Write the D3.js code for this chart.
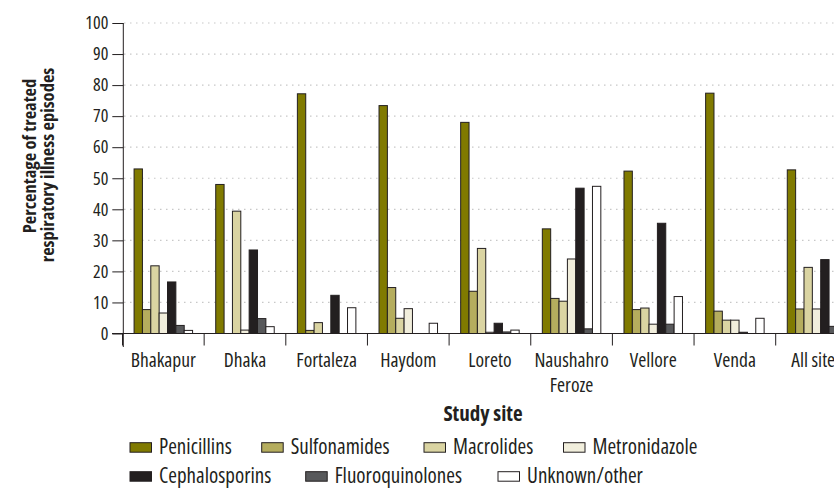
<!DOCTYPE html>
<html><head><meta charset="utf-8">
<script src="https://cdn.jsdelivr.net/npm/d3@7"></script>
<style>
html,body{margin:0;padding:0;background:#fff;overflow:hidden;}
text{font-family:"Open Sans",sans-serif;font-stretch:85%;fill:#231f20;}
text.bold{font-stretch:75%;font-weight:bold;}
</style></head>
<body><svg id="c" width="834" height="488"></svg>
<script>
const sites = ["Bhakapur","Dhaka","Fortaleza","Haydom","Loreto","Naushahro|Feroze","Vellore","Venda","All sites"];
const seriesNames = ["Penicillins","Sulfonamides","Macrolides","Metronidazole","Cephalosporins","Fluoroquinolones","Unknown/other"];
const penicillins      = [53.0, 48.0, 77.2, 73.4, 68.0, 33.7, 52.3, 77.4, 52.7];
const sulfonamides     = [7.7, 0, 1.0, 14.8, 13.6, 11.3, 7.7, 7.2, 7.9];
const macrolides       = [21.8, 39.4, 3.5, 4.9, 27.4, 10.4, 8.2, 4.3, 21.3];
const metronidazole    = [6.6, 1.1, 0, 8.0, 0.4, 24.0, 3.0, 4.3, 7.9];
const cephalosporins   = [16.6, 26.9, 12.3, 0, 3.3, 46.8, 35.5, 0.4, 23.8];
const fluoroquinolones = [2.6, 4.8, 0, 0, 0.5, 1.5, 3.0, 0, 2.3];
const unknownOther     = [1.0, 2.2, 8.3, 3.3, 1.1, 47.4, 11.9, 4.9, 5.0];
const yTicks = [0,10,20,30,40,50,60,70,80,90,100];
const colors = ["#807a00","#b5ad5e","#dad4a2","#f1eedc","#231f20","#58595b","#ffffff"];

const seriesVals = [penicillins,sulfonamides,macrolides,metronidazole,cephalosporins,fluoroquinolones,unknownOther];
const svg = d3.select("#c");
const x0 = d3.scaleBand().domain(sites).range([122.5, 122.5 + 81.65*9]).padding(0);
const groupW = 58.5;
const x1 = d3.scaleBand().domain(seriesNames).range([0, groupW]).padding(0);
const y = d3.scaleLinear().domain([0,100]).range([333.5, 23]);

// grid
svg.append("g").selectAll("line").data(yTicks.filter(d=>d>0)).join("line")
  .attr("x1",124).attr("x2",834).attr("y1",d=>y(d)).attr("y2",d=>y(d))
  .attr("stroke","#c8c8c8").attr("stroke-width",1.2).attr("stroke-dasharray","1.5,4.5");

// bars
const gOff = (x0.bandwidth()-groupW)/2;
const g = svg.append("g");
sites.forEach((s,i)=>{
  seriesNames.forEach((n,j)=>{
    const v = seriesVals[j][i];
    if(v<=0) return;
    g.append("rect")
      .attr("x", x0(s)+gOff+x1(n))
      .attr("y", y(v))
      .attr("width", x1.bandwidth())
      .attr("height", y(0)-y(v))
      .attr("fill", colors[j])
      .attr("stroke","#231f20").attr("stroke-width",1);
  });
});

// y axis
const ya = svg.append("g").attr("transform","translate(123.3,0)")
  .call(d3.axisLeft(y).tickValues(yTicks).tickSize(11).tickPadding(4));
ya.select(".domain").attr("stroke","#231f20").attr("d","M0,"+y(100)+"V347");
ya.selectAll(".tick line").attr("stroke","#231f20");
ya.selectAll("text").style("font-size","18px").style("font-family","Open Sans").attr("fill","#231f20");

// x axis
const xa = svg.append("g").attr("transform","translate(0,"+y(0)+")");
xa.append("line").attr("x1",112).attr("x2",834).attr("y1",0).attr("y2",0).attr("stroke","#231f20");
xa.selectAll(".tk").data(sites).join("line").attr("class","tk")
  .attr("x1",d=>x0(d)).attr("x2",d=>x0(d)).attr("y1",0).attr("y2",12).attr("stroke","#231f20");
xa.selectAll(".lab").data(sites).join("text").attr("class","lab")
  .attr("text-anchor","middle").style("font-size","19.5px")
  .attr("x",d=>x0(d)+x0.bandwidth()/2)
  .each(function(d){
    const parts=d.split("|");
    parts.forEach((p,k)=>d3.select(this).append("tspan").attr("x",x0(d)+x0.bandwidth()/2).attr("y",33.5+k*24.5).text(p));
  });

// titles
svg.append("text").attr("class","bold").attr("transform","translate(36,156) rotate(-90)").attr("text-anchor","middle")
  .style("font-size","18.5px").text("Percentage of treated");
svg.append("text").attr("class","bold").attr("transform","translate(54,165) rotate(-90)").attr("text-anchor","middle")
  .style("font-size","18.5px").text("respiratory illness episodes");
svg.append("text").attr("class","bold").attr("x",483).attr("y",421).attr("text-anchor","middle")
  .style("font-size","21px").text("Study site");

// legend
const legPos = [[130,454],[261.7,454],[424,454],[563.5,454],[130,483],[305.7,483],[498,483]];
seriesNames.forEach((n,j)=>{
  const [lx,ly]=legPos[j];
  svg.append("rect").attr("x",lx).attr("y",ly-11.3).attr("width",21.5).attr("height",9.5)
    .attr("fill",colors[j]).attr("stroke","#231f20").attr("stroke-width",1);
  svg.append("text").attr("x",lx+29).attr("y",ly).style("font-size","21px").text(n);
});
</script></body></html>
